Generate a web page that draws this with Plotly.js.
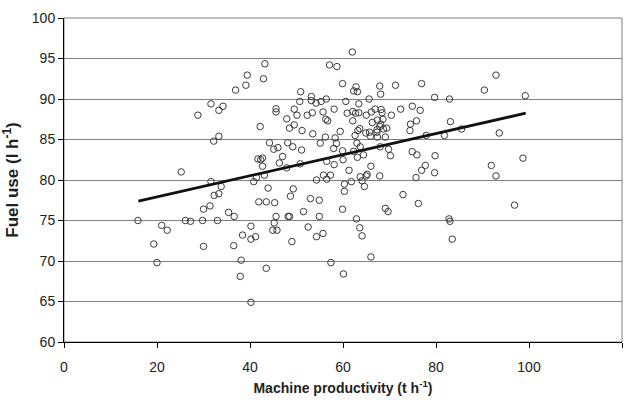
<!DOCTYPE html>
<html>
<head>
<meta charset="utf-8">
<script src="https://cdn.plot.ly/plotly-3.0.1.min.js"></script>
<style>html,body{margin:0;padding:0;background:#fff;}#chart{width:631px;height:407px;}</style>
</head>
<body>
<div id="chart"></div>
<script>
// Machine productivity (t h-1)
const productivity = [
15.9,19.3,20.0,21.0,22.2,25.2,26.1,27.2,28.8,29.8,30.0,30.0,31.4,31.6,31.6,32.2,32.3,33.0,33.3,33.3,
33.3,33.8,34.2,35.4,36.5,36.6,36.9,37.9,38.1,38.4,39.1,39.4,40.2,40.2,40.2,40.8,41.2,41.4,41.7,41.9,
42.2,42.3,42.7,42.7,42.9,43.1,43.2,43.5,43.5,43.9,44.2,44.9,45.1,45.2,45.3,45.6,45.6,45.6,45.8,46.0,
46.3,47.0,47.9,47.9,48.1,48.2,48.5,48.5,48.7,49.0,49.2,49.3,49.5,49.5,50.1,50.7,50.8,50.9,51.1,51.2,
51.5,52.3,52.5,53.0,53.2,53.2,53.4,53.5,54.2,54.3,54.3,54.9,54.9,55.1,55.3,55.7,55.7,55.8,56.2,56.3,
56.4,56.5,56.5,56.7,57.1,57.3,57.4,58.0,58.1,58.1,58.3,58.6,58.7,59.4,59.9,59.9,59.9,60.0,60.1,60.3,
60.3,60.6,60.9,61.3,61.8,62.0,62.1,62.1,62.3,62.3,62.6,62.7,62.8,62.9,63.0,63.1,63.1,63.2,63.4,63.4,
63.6,63.6,63.7,63.7,64.1,64.1,64.4,64.6,64.9,65.0,65.0,65.2,65.6,65.7,65.9,66.0,66.0,66.1,66.3,66.9,
67.3,67.3,67.4,67.4,67.9,67.9,67.9,68.0,68.1,68.1,68.2,68.4,68.6,68.7,69.1,69.1,69.4,69.7,69.8,70.2,
70.4,71.3,72.4,72.9,74.4,74.5,74.9,74.9,75.7,75.8,75.9,76.2,76.6,76.9,76.9,77.7,77.9,79.7,79.7,79.8,
81.8,82.8,82.9,83.0,83.1,83.5,85.5,90.4,91.9,92.9,92.9,93.6,96.9,98.7,99.2
];
// Fuel use (l h-1)
const fuelUse = [
75.0,72.1,69.8,74.4,73.8,81.0,75.0,74.9,88.0,75.0,76.4,71.8,76.8,89.4,79.8,84.8,78.1,75.0,88.6,85.4,
78.3,79.2,89.1,76.0,71.9,75.5,91.1,68.1,70.1,73.2,91.7,92.95,74.3,72.7,64.9,79.8,73.0,80.3,82.6,77.3,
86.6,82.5,81.7,82.7,92.5,80.6,94.35,77.3,69.1,79.0,84.6,73.8,83.8,74.7,77.2,75.5,88.8,88.4,73.8,84.0,
82.1,82.9,81.5,87.55,84.6,75.5,75.5,86.4,78.0,72.4,84.1,78.9,88.75,86.8,88.0,89.7,82.0,90.9,83.7,86.1,
76.1,88.0,74.2,77.7,90.3,89.8,88.3,85.7,89.5,80.0,73.0,77.5,75.5,84.55,89.7,73.4,88.4,80.6,85.3,87.5,
90.0,82.3,80.1,87.3,94.2,80.6,69.8,83.9,88.75,81.9,85.2,84.5,94.0,86.0,91.9,83.6,76.4,82.5,68.4,78.6,
79.5,89.7,88.25,81.2,79.8,95.8,88.45,87.3,91.0,83.55,85.5,88.25,91.5,75.2,84.55,90.9,82.8,86.1,89.4,88.3,
86.35,74.1,84.1,80.4,79.9,73.1,83.1,79.2,85.8,88.0,80.5,80.7,90.0,85.9,85.4,81.7,70.5,88.4,87.1,88.75,
86.2,85.9,87.4,85.3,91.6,86.6,80.5,84.1,90.6,86.9,88.7,88.3,87.5,86.3,85.3,76.5,86.4,76.1,83.8,83.0,
88.0,91.7,88.75,78.2,86.1,86.9,89.1,83.5,80.3,87.3,83.1,77.1,88.6,91.9,81.2,81.8,85.5,90.2,80.9,83.0,
85.5,75.2,90.0,74.9,87.2,72.7,86.3,91.1,81.8,92.95,80.5,85.8,76.9,82.7,90.4
];
// Linear trend line end points
const trendX = [16, 99.3];
const trendY = [77.4, 88.25];

const xTicks = [0, 20, 40, 60, 80, 100, 120];
const yTicks = [60, 65, 70, 75, 80, 85, 90, 95, 100];

const fontFam = '"Liberation Sans Narrow", "Arial Narrow", "Liberation Sans", Arial, sans-serif';

const traces = [
  {
    x: productivity, y: fuelUse, type: 'scatter', mode: 'markers',
    marker: {symbol: 'circle-open', size: 6.5, color: '#3a3a3a', line: {width: 1, color: '#3a3a3a'}},
    hoverinfo: 'x+y', showlegend: false
  },
  {
    x: trendX, y: trendY, type: 'scatter', mode: 'lines',
    line: {color: '#111111', width: 2.8}, showlegend: false, hoverinfo: 'skip'
  }
];

const layout = {
  width: 631, height: 407,
  margin: {l: 64, r: 9, t: 18, b: 65},
  paper_bgcolor: '#ffffff', plot_bgcolor: '#ffffff',
  font: {family: fontFam, size: 14, color: '#222'},
  xaxis: {
    range: [0, 120], tickvals: xTicks, ticktext: xTicks.map(String),
    showgrid: false, zeroline: false, showline: true, linecolor: '#000', linewidth: 1,
    ticks: 'outside', ticklen: 5, tickcolor: '#000', ticklabelstandoff: 7,
    tickfont: {family: fontFam, size: 14, color: '#222'},
    title: {text: '<b>Machine productivity (t h<sup>-1</sup>)</b>', font: {family: fontFam, size: 14, color: '#222'}, standoff: 9}
  },
  yaxis: {
    range: [60, 100], tickvals: yTicks, ticktext: yTicks.map(String),
    showgrid: true, gridcolor: '#808080', gridwidth: 1, zeroline: false,
    showline: true, linecolor: '#000', linewidth: 1,
    ticks: 'outside', ticklen: 5, tickcolor: '#000', tickfont: {family: fontFam, size: 14, color: '#222'},
    title: {text: '<b>Fuel use (l h<sup>-1</sup>)</b>', font: {family: fontFam, size: 17, color: '#222'}, standoff: 13}
  },
  shapes: [
    {type: 'rect', xref: 'paper', yref: 'paper', x0: 0, x1: 1, y0: 0, y1: 1,
     line: {color: '#808080', width: 1}, layer: 'below'}
  ]
};

Plotly.newPlot('chart', traces, layout, {displayModeBar: false, staticPlot: true});
</script>
</body>
</html>
